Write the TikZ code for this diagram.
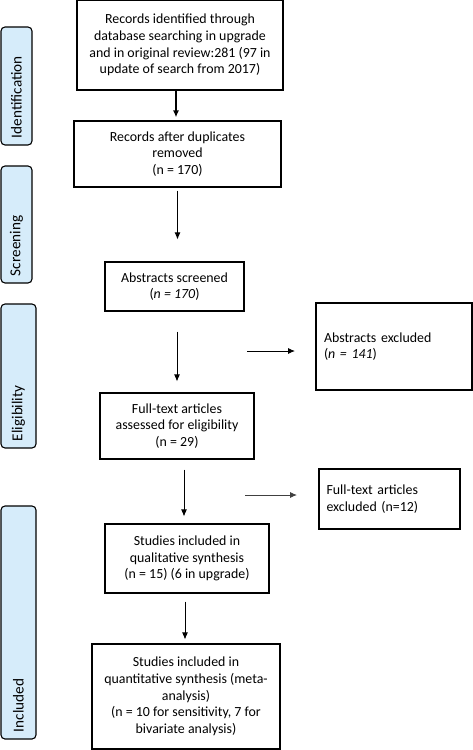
\documentclass[tikz,border=0pt]{standalone}
\usepackage{fontspec}
\setmainfont{Carlito}
\usepackage{tikz}
\usetikzlibrary{positioning, shapes.geometric}
\usetikzlibrary{calc}
\usetikzlibrary{arrows.meta}
\definecolor{phaseblue}{RGB}{214,236,250}

\begin{document}
\begin{tikzpicture}[x=1pt, y=-1pt, thick,
        box/.style={rectangle, draw, line width=1.1pt, inner sep=0pt, text centered, align=center, font=\fontsize{13.9}{16.7}\selectfont},
        phase/.style={rectangle, draw, rounded corners=4pt, fill=phaseblue, line width=1.1pt, rotate=90, inner sep=0pt, align=left, font=\fontsize{15.2}{16}\selectfont},
        flow/.style={-{Latex[length=7pt, width=6pt]}, line width=0.9pt}]

        \useasboundingbox (0,0) rectangle (473,750);

        % Phases
        \node (I) [phase, minimum width=118pt, minimum height=31pt, text width=104pt] at (16.5,86) {Identification};
        \node (S) [phase, minimum width=117pt, minimum height=31pt, text width=103pt] at (16.5,224.5) {Screening};
        \node (E) [phase, minimum width=144pt, minimum height=35pt, text width=130pt] at (18.5,376) {Eligibility};
        \node (N) [phase, minimum width=233pt, minimum height=35pt, text width=219pt] at (18.5,622.5) {Included};

        % Nodes
        \node (rec) [box, line width=1.7pt, minimum width=206pt, minimum height=90pt] at (180,45)
                    {Records identified through\\database searching in upgrade\\and in original review:281 (97 in\\update of search from 2017)};
        \node (dup) [box, minimum width=207pt, minimum height=66pt] at (177.5,154)
                    {Records after duplicates\\removed\\(n = 170)};
        \node (abs) [box, minimum width=139pt, minimum height=49pt] at (174.5,286.5)
                    {Abstracts screened\\(\textit{n = 170})};
        \node (absx) [box, minimum width=156pt, minimum height=87pt, text width=140pt, align=left] at (394,346.5)
                    {Abstracts excluded\\(\textit{n = 141})};
        \node (full) [box, minimum width=154pt, minimum height=66pt] at (177,426)
                    {Full-text articles\\assessed for eligibility\\(n = 29)};
        \node (fullx) [box, minimum width=141pt, minimum height=60pt, text width=126pt, align=left] at (389.5,499)
                    {Full-text articles\\excluded (n=12)};
        \node (qual) [box, minimum width=164pt, minimum height=69pt] at (187,558.5)
                    {Studies included in\\qualitative synthesis\\(n = 15) (6 in upgrade)};
        \node (quant) [box, minimum width=188pt, minimum height=105pt] at (186,696.5)
                    {Studies included in\\quantitative synthesis (meta-\\analysis)\\(n = 10 for sensitivity, 7 for\\bivariate analysis)};

        \coordinate (a1) at ($(rec.south)+(-4,0)$);
        \coordinate (a3) at ($(abs.south)+(2.5,0)$);
        \coordinate (a4) at ($(full.south)+(7,0)$);
        \coordinate (a5) at ($(qual.south)+(-2,0)$);
        \coordinate (ex1a) at (247,351);
        \coordinate (ex1b) at (295,351);
        \coordinate (ex2a) at (245,495);
        \coordinate (ex2b) at (297,495);

        % Arrows
        \draw[flow, line width=1.6pt, shorten >=3pt] (a1) -- (a1 |- dup.north);
        \draw[flow, shorten <=3pt, shorten >=22pt] (dup.south) -- (dup.south |- abs.north);
        \draw[flow, shorten <=20pt, shorten >=11pt] (a3) -- (a3 |- full.north);
        \draw[flow, shorten <=10pt, shorten >=7pt] (a4) -- (a4 |- qual.north);
        \draw[flow, shorten <=8pt, shorten >=4pt] (a5) -- (a5 |- quant.north);
        \draw[flow] (ex1a) -- (ex1b);
        \draw[flow, draw=black!75] (ex2a) -- (ex2b);

\end{tikzpicture}
\end{document}
